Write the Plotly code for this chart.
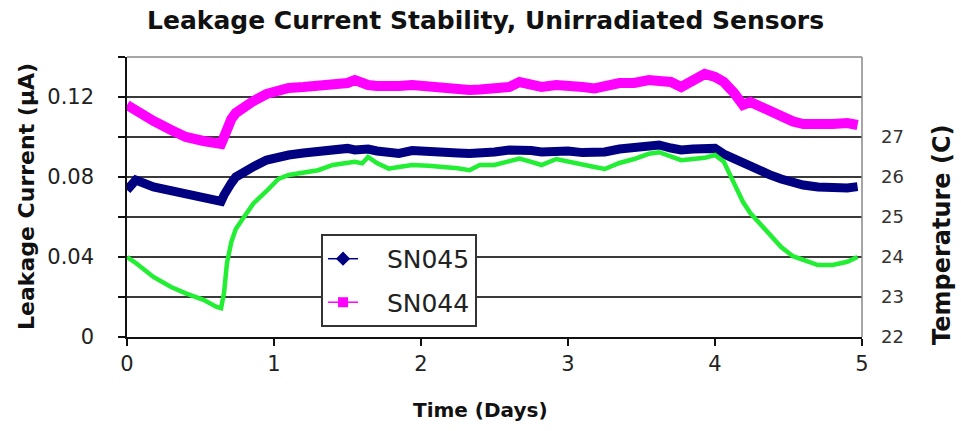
import plotly.graph_objects as go

# ---- data ----
days = [0, 0.06, 0.18, 0.3, 0.4, 0.52, 0.61, 0.64, 0.66, 0.68, 0.71, 0.74, 0.79, 0.86, 0.95,
        1.03, 1.1, 1.2, 1.3, 1.4, 1.5, 1.55, 1.6, 1.64, 1.7, 1.78, 1.85, 1.94,
        2.05, 2.15, 2.25, 2.33, 2.4, 2.5, 2.6, 2.67, 2.75, 2.82, 2.92,
        3.0, 3.1, 3.18, 3.25, 3.35, 3.45, 3.55, 3.62, 3.7, 3.77, 3.85, 3.93,
        4.0, 4.06, 4.13, 4.19, 4.24, 4.3, 4.37, 4.45, 4.53, 4.6, 4.7, 4.8, 4.9, 4.97]

sn044 = [0.116, 0.113, 0.108, 0.1035, 0.100, 0.098, 0.097, 0.0965, 0.100, 0.105, 0.109, 0.112, 0.115, 0.118, 0.1215,
         0.1235, 0.1245, 0.125, 0.1255, 0.1265, 0.127, 0.1285, 0.127, 0.126, 0.1255, 0.125, 0.1255, 0.126,
         0.125, 0.1245, 0.1235, 0.1235, 0.1238, 0.1245, 0.125, 0.1275, 0.126, 0.125, 0.126,
         0.126, 0.125, 0.1243, 0.1255, 0.127, 0.127, 0.1285, 0.128, 0.1275, 0.125, 0.1285, 0.1315,
         0.130, 0.1275, 0.122, 0.116, 0.1175, 0.1155, 0.1125, 0.110, 0.1078, 0.1065, 0.106, 0.1065, 0.107, 0.106]

sn045 = [0.0735, 0.0785, 0.075, 0.073, 0.071, 0.0695, 0.0685, 0.0678, 0.071, 0.0745, 0.077, 0.080, 0.0825, 0.0852, 0.0885,
         0.090, 0.091, 0.092, 0.0927, 0.0935, 0.0943, 0.0935, 0.0943, 0.094, 0.093, 0.0925, 0.0918, 0.0932,
         0.0925, 0.0918, 0.092, 0.0918, 0.0918, 0.0925, 0.0935, 0.0938, 0.0932, 0.0925, 0.093,
         0.093, 0.0922, 0.0918, 0.0925, 0.094, 0.095, 0.0958, 0.096, 0.0945, 0.0935, 0.094, 0.0943,
         0.0943, 0.0915, 0.089, 0.0868, 0.0855, 0.0838, 0.0812, 0.079, 0.0772, 0.076, 0.075, 0.0745, 0.0745, 0.0752]

temperature = [24.0, 23.85, 23.5, 23.25, 23.09, 22.93, 22.75, 22.72, 23.1, 23.85, 24.38, 24.7, 24.97, 25.34, 25.65,
               25.95, 26.05, 26.1, 26.17, 26.3, 26.35, 26.38, 26.34, 26.5, 26.35, 26.21, 26.25, 26.3,
               26.28, 26.26, 26.22, 26.17, 26.3, 26.3, 26.38, 26.46, 26.38, 26.3, 26.45,
               26.38, 26.3, 26.25, 26.2, 26.35, 26.45, 26.58, 26.62, 26.5, 26.42, 26.45, 26.48,
               26.55, 26.38, 25.84, 25.38, 25.1, 24.85, 24.55, 24.25, 24.02, 23.92, 23.8, 23.8, 23.88, 24.0]

x_ticks = [0, 1, 2, 3, 4, 5]
y_ticks = [0, 0.02, 0.04, 0.06, 0.08, 0.10, 0.12, 0.14]
y_ticktext = ["0", "", "0.04", "", "0.08", "", "0.12", ""]
t_ticks = [22, 23, 24, 25, 26, 27]

NAVY = "#000080"
MAGENTA = "#FF00FF"
GREEN = "#22EE33"
FONT = "DejaVu Sans"
PAD = "\u00a0\u00a0\u00a0"

fig = go.Figure()

# data traces (thick bands like the dense markers of the original)
fig.add_trace(go.Scatter(x=days, y=sn044, mode="lines", line=dict(color=MAGENTA, width=10),
                         showlegend=False, hoverinfo="skip"))
fig.add_trace(go.Scatter(x=days, y=sn045, mode="lines", line=dict(color=NAVY, width=9),
                         showlegend=False, hoverinfo="skip"))
fig.add_trace(go.Scatter(x=days, y=temperature, mode="lines", line=dict(color=GREEN, width=4.5),
                         showlegend=False, yaxis="y2", hoverinfo="skip"))

# legend entries
fig.add_trace(go.Scatter(x=[None], y=[None], mode="lines+markers", name=PAD + "SN045",
                         line=dict(color=NAVY, width=1.5),
                         marker=dict(symbol="diamond", size=11, color=NAVY), legendgroup="a"))
fig.add_trace(go.Scatter(x=[None], y=[None], mode="lines+markers", name=PAD + "SN044",
                         line=dict(color=MAGENTA, width=1.5),
                         marker=dict(symbol="square", size=10, color=MAGENTA), legendgroup="b"))

L, R, T, B = 127, 99, 57, 94
fig.update_layout(
    width=961, height=431,
    margin=dict(l=L, r=R, t=T, b=B),
    paper_bgcolor="white", plot_bgcolor="white",
    font=dict(family=FONT, color="#222222"),
    showlegend=True,
    hovermode=False,
    legend=dict(x=0.264, y=0.368, xanchor="left", yanchor="top",
                bgcolor="white", bordercolor="#333333", borderwidth=2,
                font=dict(size=25, family=FONT, color="#222222"),
                tracegroupgap=8, traceorder="grouped"),
    xaxis=dict(range=[0, 5], tickvals=x_ticks, showgrid=False, zeroline=False,
               showline=True, linecolor="#111111", linewidth=1.5,
               ticks="outside", ticklen=7, tickcolor="#111111", tickwidth=1.5,
               tickfont=dict(size=21, family=FONT, color="#222222")),
    yaxis=dict(range=[0, 0.14], tickvals=y_ticks, ticktext=y_ticktext,
               showgrid=True, gridcolor="#3a3a3a", gridwidth=1.5, zeroline=False,
               showline=True, linecolor="#111111", linewidth=1.5,
               ticks="outside", ticklen=7, tickcolor="#111111", tickwidth=1.5,
               ticklabelstandoff=20,
               tickfont=dict(size=21, family=FONT, color="#222222")),
    yaxis2=dict(range=[22, 29], tickvals=t_ticks, overlaying="y", side="right",
                showgrid=False, zeroline=False, showline=False, ticks="",
                ticklabelstandoff=18,
                tickfont=dict(size=18, family=FONT, color="#333333")),
    shapes=[
        dict(type="line", xref="paper", yref="paper", x0=0, x1=1, y0=1, y1=1,
             line=dict(color="#888888", width=1.5)),
        dict(type="line", xref="paper", yref="paper", x0=1, x1=1, y0=0, y1=1,
             line=dict(color="#888888", width=1.5)),
    ],
    annotations=[
        dict(text="<b>Leakage Current Stability, Unirradiated Sensors</b>", xref="paper", yref="paper",
             x=(485 - L) / 735, y=1 + (T - 20) / 280, xanchor="center", yanchor="middle",
             showarrow=False, font=dict(size=25, family=FONT, color="#111111")),
        dict(text="<b>Time (Days)</b>", xref="paper", yref="paper",
             x=(480 - L) / 735, y=-(410 - 337) / 280, xanchor="center", yanchor="middle",
             showarrow=False, font=dict(size=20, family=FONT, color="#111111")),
        dict(text="<b>Leakage Current (μA)</b>", xref="paper", yref="paper",
             x=(26 - L) / 735, y=(337 - 197) / 280, xanchor="center", yanchor="middle",
             textangle=-90, showarrow=False, font=dict(size=22, family=FONT, color="#111111")),
        dict(text="<b>Temperature (C)</b>", xref="paper", yref="paper",
             x=(942 - L) / 735, y=(337 - 234) / 280, xanchor="center", yanchor="middle",
             textangle=-90, showarrow=False, font=dict(size=24, family=FONT, color="#111111")),
    ],
)

fig.write_html("out.html", config={"displayModeBar": False},
               post_script="document.body.style.margin='0';")
